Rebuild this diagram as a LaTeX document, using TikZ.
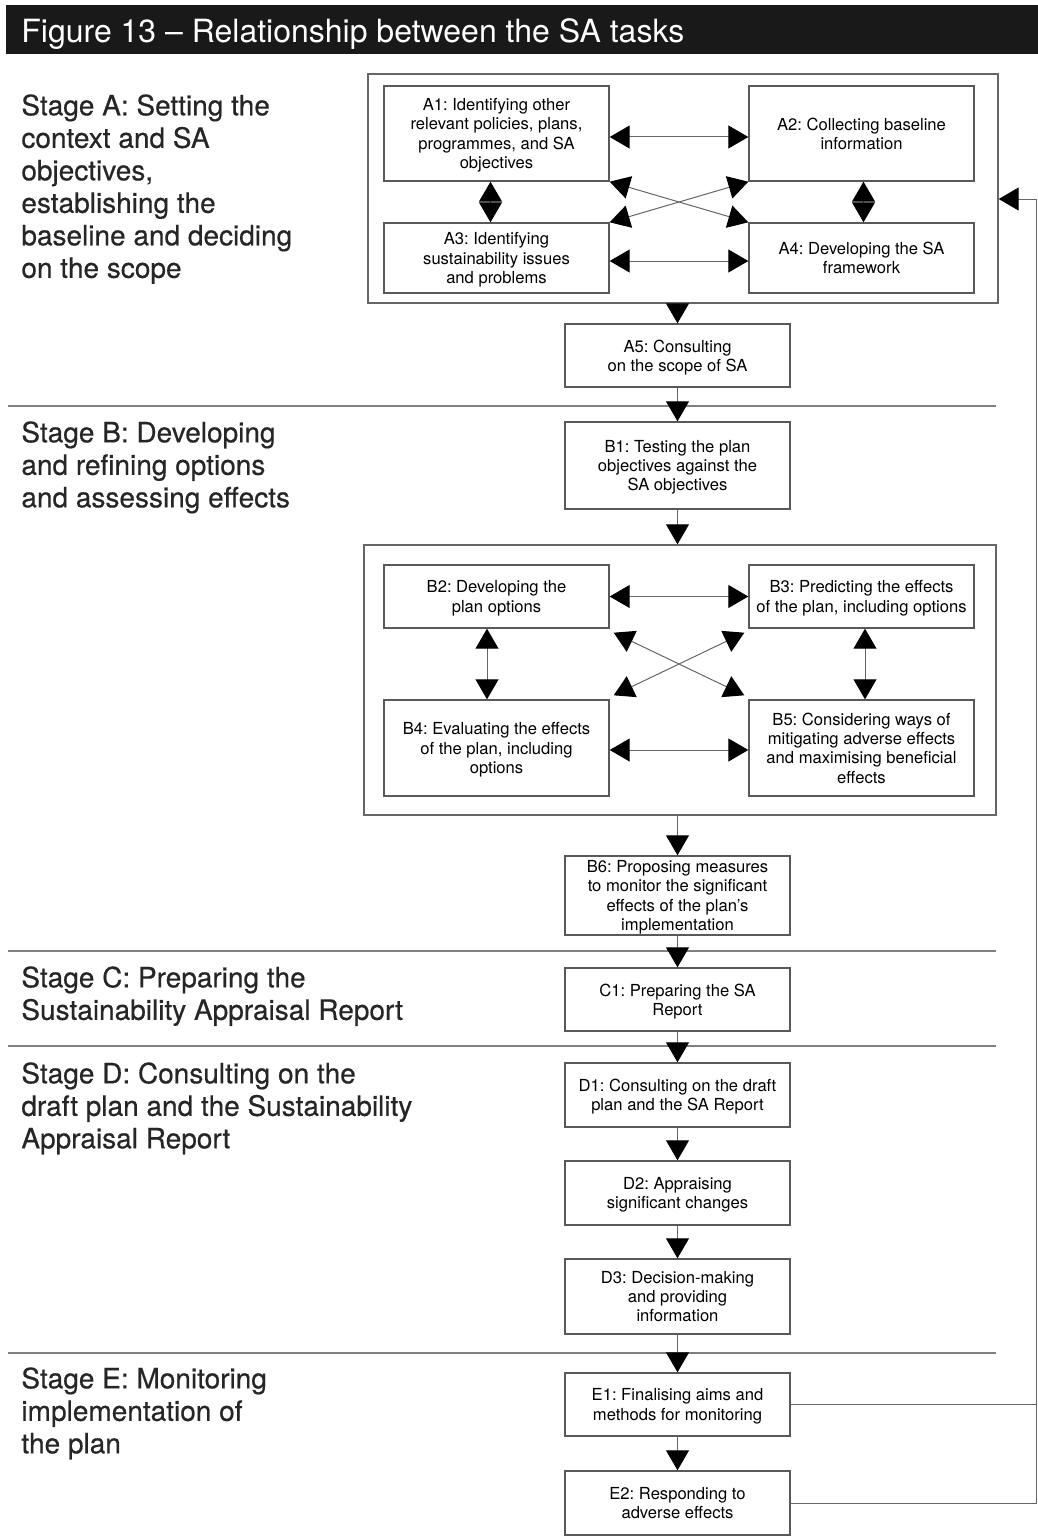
\documentclass[tikz,border=0pt]{standalone}
\usepackage{fontspec}
\setmainfont{TeX Gyre Heros}
\newfontfamily\stagefont{TeX Gyre Heros}[FakeBold=0.5]
\usepackage{tikz}
\usetikzlibrary{arrows.meta}
\frenchspacing

\begin{document}
\begin{tikzpicture}[x=0.5pt, y=-0.5pt,
    task/.style={draw=black!65, line width=0.7pt, fill=white, align=center,
                 minimum width=112.5pt, inner sep=2pt, text depth=-4.5pt,
                 font=\fontsize{8.3}{9.6}\selectfont},
    group/.style={draw=black!60, line width=0.7pt},
    stage/.style={anchor=north west, align=left, inner sep=0pt,
                  font=\stagefont\fontsize{14}{16.25}\selectfont, text=black!85},
    link/.style={draw=black!60, line width=0.5pt,
                 -{Triangle[length=10pt,width=11.5pt,color=black]}},
    both/.style={link, {Triangle[length=10pt,width=11.5pt,color=black]}-{Triangle[length=10pt,width=11.5pt,color=black]}},
    sepline/.style={draw=black!50, line width=0.6pt}]
  \useasboundingbox (0,0) rectangle (1038,1536);

  % title bar
  \fill[black!90] (6,5) rectangle (1038,54);
  \node[anchor=base west, text=white, inner sep=0pt,
        font=\fontsize{16}{18}\selectfont] (title) at (21,43)
    {Figure 13 -- Relationship between the SA tasks};

  % stage separators
  \draw[sepline] (8,406) -- (996,406);
  \draw[sepline] (8,951) -- (996,951);
  \draw[sepline] (8,1046) -- (996,1046);
  \draw[sepline] (8,1353) -- (996,1353);

  % stage labels
  \node[stage] (stA) at (21,94) {Stage A: Setting the\\context and SA\\objectives,\\establishing the\\baseline and deciding\\on the scope};
  \node[stage] (stB) at (21,421) {Stage B: Developing\\and refining options\\and assessing effects};
  \node[stage] (stC) at (21,966) {Stage C: Preparing the\\Sustainability Appraisal Report};
  \node[stage] (stD) at (21,1062) {Stage D: Consulting on the\\draft plan and the Sustainability\\Appraisal Report};
  \node[stage] (stE) at (21,1367) {Stage E: Monitoring\\implementation of\\the plan};

  % group frames
  \node[group, minimum width=315pt, minimum height=114.5pt] (GA) at (683,188.5) {};
  \node[group, minimum width=316pt, minimum height=135pt] (GB) at (680,680) {};

  % stage A tasks
  \node[task, minimum height=47.5pt] (A1) at (496.5,133.5) {A1: Identifying other\\relevant policies, plans,\\programmes, and SA\\objectives};
  \node[task, minimum height=47.5pt] (A2) at (861.5,133.5) {A2: Collecting baseline\\information};
  \node[task, minimum height=35pt] (A3) at (496.5,258) {A3: Identifying\\sustainability issues\\and problems};
  \node[task, minimum height=35pt] (A4) at (861.5,258) {A4: Developing the SA\\framework};
  \node[task, minimum height=31.5pt] (A5) at (677.5,355.5) {A5: Consulting\\on the scope of SA};

  % stage B tasks
  \node[task, minimum height=43.5pt] (B1) at (677.5,465.5) {B1: Testing the plan\\objectives against the\\SA objectives};
  \node[task, minimum height=31.5pt] (B2) at (496.5,596.5) {B2: Developing the\\plan options};
  \node[task, minimum height=31.5pt] (B3) at (861.5,596.5) {B3: Predicting the effects\\of the plan, including options};
  \node[task, minimum height=48pt] (B4) at (496.5,748) {B4: Evaluating the effects\\of the plan, including\\options};
  \node[task, minimum height=48pt] (B5) at (861.5,748) {B5: Considering ways of\\mitigating adverse effects\\and maximising beneficial\\effects};
  \node[task, minimum height=39.5pt] (B6) at (677.5,895.5) {B6: Proposing measures\\to monitor the significant\\effects of the plan’s\\implementation};

  % stages C, D, E tasks
  \node[task, minimum height=31.5pt] (C1) at (677.5,999.5) {C1: Preparing the SA\\Report};
  \node[task, minimum height=32pt] (D1) at (677.5,1095) {D1: Consulting on the draft\\plan and the SA Report};
  \node[task, minimum height=32pt] (D2) at (677.5,1193) {D2: Appraising\\significant changes};
  \node[task, minimum height=37.5pt] (D3) at (677.5,1296.5) {D3: Decision-making\\and providing\\information};
  \node[task, minimum height=31.5pt] (E1) at (677.5,1404.5) {E1: Finalising aims and\\methods for monitoring};
  \node[task, minimum height=32pt] (E2) at (677.5,1503) {E2: Responding to\\adverse effects};

  % links inside stage A
  \draw[both] ([yshift=-1.75pt]A1.east) -- ([yshift=-1.75pt]A2.west);
  \draw[both] ([yshift=-1.5pt]A3.east) -- ([yshift=-1.5pt]A4.west);
  \draw[both] ([xshift=-3pt]A1.south) -- ([xshift=-3pt]A3.north);
  \draw[both] ([xshift=1pt]A2.south) -- ([xshift=1pt]A4.north);
  \draw[both] (A1.south east) -- (A4.north west);
  \draw[both] (A3.north east) -- (A2.south west);

  % links inside stage B
  \draw[both] (B2.east) -- (B3.west);
  \draw[both] ([yshift=-1pt]B4.east) -- ([yshift=-1pt]B5.west);
  \draw[both] ([xshift=-4.75pt]B2.south) -- ([xshift=-4.75pt]B4.north);
  \draw[both] ([xshift=1.75pt]B3.south) -- ([xshift=1.75pt]B5.north);
  \draw[both] ([shift={(2pt,-2pt)}]B2.south east) -- ([shift={(-2pt,2pt)}]B5.north west);
  \draw[both] ([shift={(2pt,2pt)}]B4.north east) -- ([shift={(-2pt,-2pt)}]B3.south west);

  % main flow
  \draw[link] (GA.south -| A5.north) -- (A5.north);
  \draw[link] (A5) -- (B1);
  \draw[link] (B1.south) -- (GB.north -| B1.south);
  \draw[link] (GB.south -| B6.north) -- (B6.north);
  \draw[link] (B6) -- (C1);
  \draw[link] (C1) -- (D1);
  \draw[link] (D1) -- (D2);
  \draw[link] (D2) -- (D3);
  \draw[link] (D3) -- (E1);
  \draw[link] (E1) -- (E2);

  % feedback loop
  \coordinate (fb) at (1036,199);
  \draw[draw=black!60, line width=0.5pt] (E1.east) -- (E1.east -| fb);
  \draw[link] (E2.east) -| (fb) -- (fb -| GA.east);
\end{tikzpicture}
\end{document}
